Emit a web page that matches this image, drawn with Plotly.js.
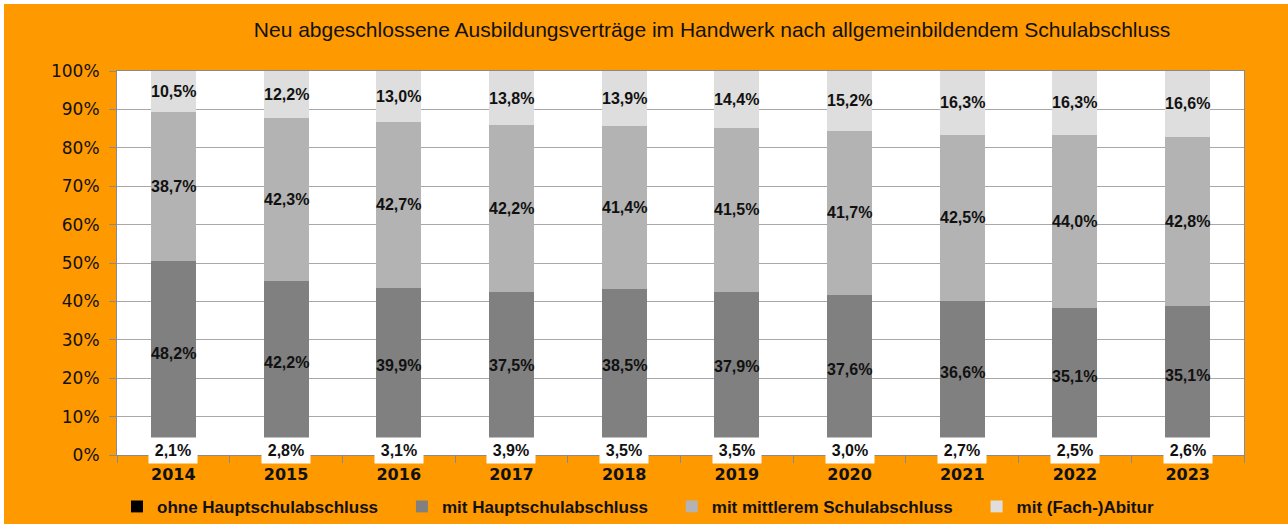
<!DOCTYPE html>
<html>
<head>
<meta charset="utf-8">
<script src="https://cdn.plot.ly/plotly-3.0.1.min.js"></script>
<style>
  html, body { margin: 0; padding: 0; background: #ffffff; }
  #chart { position: absolute; left: 4px; top: 4px; width: 1284px; height: 520px; }
</style>
</head>
<body>
<div id="chart"></div>
<script>
const years = ['2014','2015','2016','2017','2018','2019','2020','2021','2022','2023'];
const ohneHS   = [2.1, 2.8, 3.1, 3.9, 3.5, 3.5, 3.0, 2.7, 2.5, 2.6];
const mitHS    = [48.2, 42.2, 39.9, 37.5, 38.5, 37.9, 37.6, 36.6, 35.1, 35.1];
const mittlerer= [38.7, 42.3, 42.7, 42.2, 41.4, 41.5, 41.7, 42.5, 44.0, 42.8];
const abitur   = [10.5, 12.2, 13.0, 13.8, 13.9, 14.4, 15.2, 16.3, 16.3, 16.6];
const seriesNames = ['ohne Hauptschulabschluss','mit Hauptschulabschluss','mit mittlerem Schulabschluss','mit (Fach-)Abitur'];
const seriesColors = ['#000000','#808080','#b3b3b3','#dedede'];

const series = [ohneHS, mitHS, mittlerer, abitur];
const fmt = v => v.toFixed(1).replace('.', ',') + '%';
const pad = '\u00a0\u00a0\u00a0\u00a0';

const traces = series.map((vals, i) => ({
  type: 'bar',
  x: years,
  y: vals,
  name: seriesNames[i] + pad,
  marker: { color: seriesColors[i], line: { width: 0 } },
  hoverinfo: 'skip'
}));

// label annotations at segment centres (normalised like barnorm 'percent')
const annotations = [];
years.forEach((yr, j) => {
  const total = series.reduce((s, arr) => s + arr[j], 0);
  let cum = 0;
  series.forEach((arr, i) => {
    const v = arr[j] / total * 100;
    const mid = cum + v / 2;
    cum += v;
    const font = { family: 'Liberation Sans, Arial, sans-serif', size: 16, color: '#111111', weight: 'bold' };
    if (i === 0) {
      annotations.push({
        x: j, y: 0, xref: 'x', yref: 'y', text: fmt(arr[j]), showarrow: false,
        yanchor: 'middle', yshift: 5, bgcolor: '#ffffff', borderpad: 1, width: 46, height: 23,
        font: font
      });
    } else {
      annotations.push({
        x: j, y: mid, xref: 'x', yref: 'y', text: fmt(arr[j]), showarrow: false,
        yanchor: 'middle', font: font
      });
    }
  });
});

const layout = {
  width: 1284, height: 520,
  paper_bgcolor: '#ff9900',
  plot_bgcolor: '#ffffff',
  margin: { l: 113, r: 44, t: 67, b: 69, autoexpand: false },
  barmode: 'stack',
  barnorm: 'percent',
  bargap: 0.6,
  title: {
    text: 'Neu abgeschlossene Ausbildungsverträge im Handwerk nach allgemeinbildendem Schulabschluss',
    x: 0.5514, xanchor: 'center', xref: 'container',
    y: 0.95, yanchor: 'middle', yref: 'container',
    font: { family: 'Liberation Sans, Arial, sans-serif', size: 21, color: '#111111' }
  },
  xaxis: {
    type: 'category',
    range: [-0.5, 9.5],
    showline: true, linecolor: '#8a8a8a', linewidth: 1, mirror: true,
    ticks: 'outside', tickson: 'boundaries', ticklen: 7, tickcolor: '#8a8a8a',
    tickangle: 0, ticklabelstandoff: 5,
    tickfont: { family: 'DejaVu Sans, Verdana, sans-serif', size: 16, color: '#111111', weight: 'bold' },
    showgrid: false
  },
  yaxis: {
    range: [0, 100], dtick: 10, ticksuffix: '%',
    showline: true, linecolor: '#8a8a8a', linewidth: 1, mirror: true,
    ticks: 'outside', ticklen: 7, tickcolor: '#8a8a8a',
    showgrid: true, gridcolor: '#a8a8a8', gridwidth: 1,
    zeroline: false,
    ticklabelstandoff: 6,
    tickfont: { family: 'DejaVu Sans, Verdana, sans-serif', size: 17, color: '#111111' }
  },
  legend: {
    orientation: 'h', x: 0, xanchor: 'left', y: -0.135, yanchor: 'middle',
    bgcolor: 'rgba(0,0,0,0)', traceorder: 'normal',
    font: { family: 'Liberation Sans, Arial, sans-serif', size: 17, color: '#111111', weight: 'bold' }
  },
  annotations: annotations,
  showlegend: true
};

Plotly.newPlot('chart', traces, layout, { displayModeBar: false, staticPlot: true });
</script>
</body>
</html>
